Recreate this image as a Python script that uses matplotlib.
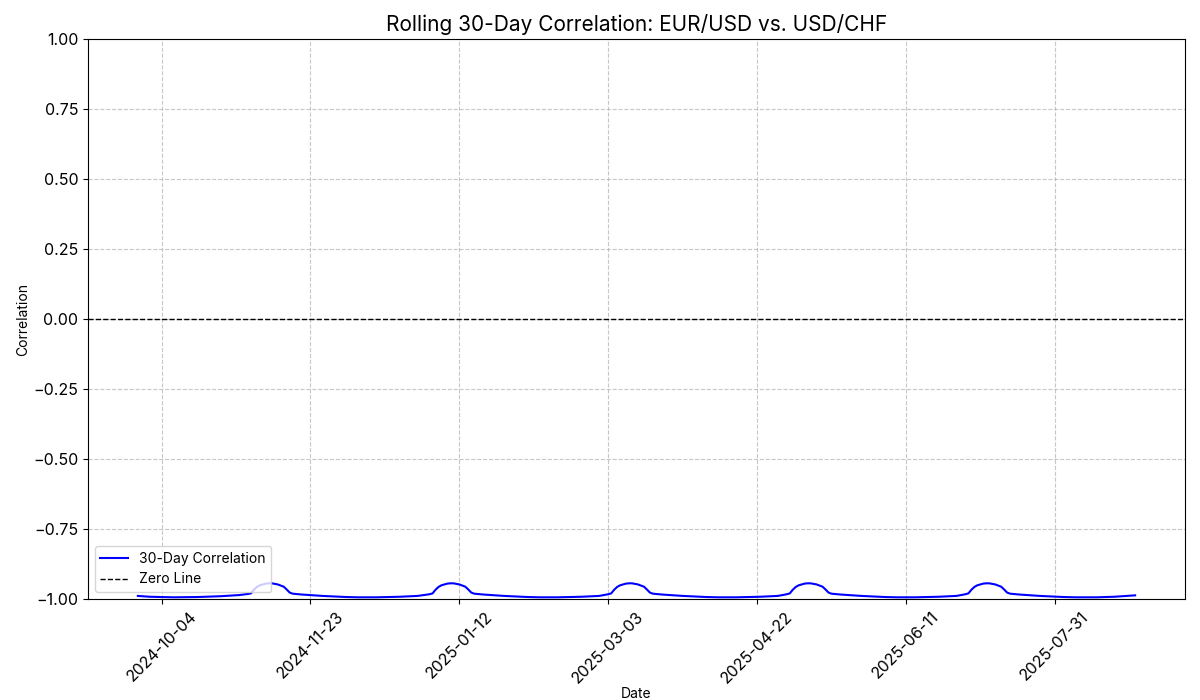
import matplotlib
matplotlib.use("Agg")
import matplotlib.pyplot as plt
import matplotlib.dates as mdates
import numpy as np
import pandas as pd

plt.rcParams['font.family'] = ['Inter', 'DejaVu Sans']

# rolling 30-day correlation (day offsets from start date)
start_date = "2024-09-26"
day_offsets = [0, 4, 12, 20, 28, 34, 37,
               38, 39, 40, 41, 43, 44, 45, 47, 49, 50, 51, 52, 55, 62, 70,
               74, 80, 88, 94, 98,
               99, 100, 101, 102, 104, 105, 106, 108, 110, 111, 112, 113, 116, 123, 131,
               135, 141, 149, 155, 158,
               159, 160, 161, 162, 164, 165, 166, 168, 170, 171, 172, 173, 176, 183, 191,
               195, 201, 209, 215, 218,
               219, 220, 221, 222, 224, 225, 226, 228, 230, 231, 232, 233, 236, 243, 251,
               255, 261, 269, 275, 278,
               279, 280, 281, 282, 284, 285, 286, 288, 290, 291, 292, 293, 296, 303, 311,
               315, 322, 328, 335]
corr = [-0.989, -0.992, -0.994, -0.993, -0.990, -0.986, -0.982,
        -0.980, -0.967, -0.957, -0.951, -0.945, -0.944, -0.944, -0.948, -0.956, -0.966, -0.977, -0.981, -0.984, -0.989, -0.993,
        -0.994, -0.994, -0.992, -0.989, -0.983,
        -0.980, -0.967, -0.957, -0.951, -0.945, -0.944, -0.944, -0.948, -0.956, -0.966, -0.977, -0.981, -0.984, -0.989, -0.993,
        -0.994, -0.994, -0.992, -0.989, -0.983,
        -0.980, -0.967, -0.957, -0.951, -0.945, -0.944, -0.944, -0.948, -0.956, -0.966, -0.977, -0.981, -0.984, -0.989, -0.993,
        -0.994, -0.994, -0.992, -0.989, -0.983,
        -0.980, -0.967, -0.957, -0.951, -0.945, -0.944, -0.944, -0.948, -0.956, -0.966, -0.977, -0.981, -0.984, -0.989, -0.993,
        -0.994, -0.994, -0.992, -0.989, -0.983,
        -0.980, -0.967, -0.957, -0.951, -0.945, -0.944, -0.944, -0.948, -0.956, -0.966, -0.977, -0.981, -0.984, -0.989, -0.993,
        -0.994, -0.994, -0.992, -0.987]

tick_dates = ["2024-10-04", "2024-11-23", "2025-01-12", "2025-03-03",
              "2025-04-22", "2025-06-11", "2025-07-31"]

dates = pd.to_datetime(start_date) + pd.to_timedelta(day_offsets, unit="D")

fig, ax = plt.subplots(figsize=(12, 7), dpi=100)
fig.subplots_adjust(left=0.0733, right=0.9875, top=0.944, bottom=0.1443)

ax.plot(dates, corr, color="blue", linewidth=1.5, label="30-Day Correlation")
ax.axhline(0, color="black", linestyle="--", linewidth=1, label="Zero Line")

ax.set_ylim(-1, 1)
ax.set_xticks(pd.to_datetime(tick_dates))
ax.xaxis.set_major_formatter(mdates.DateFormatter("%Y-%m-%d"))
plt.setp(ax.get_xticklabels(), rotation=45)
ax.tick_params(axis="both", labelsize=11.5)

ax.set_title("Rolling 30-Day Correlation: EUR/USD vs. USD/CHF", fontsize=15)
ax.set_xlabel("Date", fontsize=10, labelpad=1)
ax.set_ylabel("Correlation", fontsize=10, labelpad=2)
ax.grid(True, linestyle="--", alpha=0.7)
ax.legend(loc="lower left", fontsize=10)

fig.savefig("out.png")
